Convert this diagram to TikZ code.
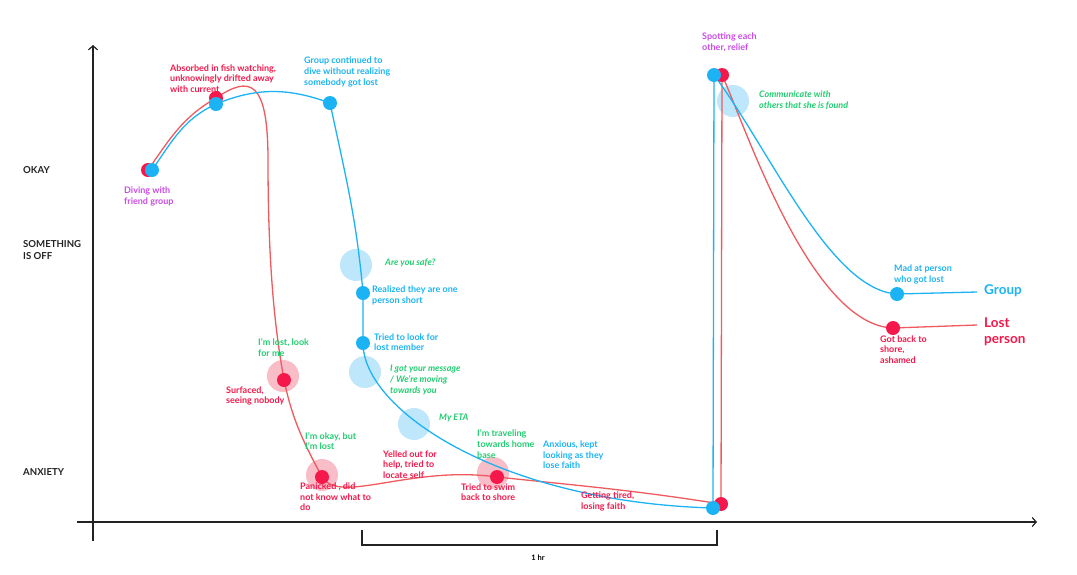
\documentclass[tikz,border=0pt]{standalone}
\usepackage{fontspec}
\setmainfont{Lato}
\usetikzlibrary{backgrounds,arrows.meta}
\definecolor{grpblue}{HTML}{1CB3F5}
\definecolor{lostred}{HTML}{F5184A}
\definecolor{redline}{HTML}{EE5A5E}
\definecolor{haloblue}{HTML}{BFE7FB}
\definecolor{halored}{HTML}{F9BDC7}
\definecolor{txtgreen}{HTML}{22CC70}
\definecolor{txtpurple}{HTML}{C94BE6}
\definecolor{axisgray}{HTML}{222222}
\newcommand\labfont{\fontsize{9}{10.6}\selectfont\bfseries}
\tikzset{
	bdot/.style={circle,fill=grpblue,minimum size=14pt,inner sep=0pt},
	rdot/.style={circle,fill=lostred,minimum size=14pt,inner sep=0pt},
	bhalo/.style={circle,fill=haloblue,minimum size=32pt,inner sep=0pt},
	rhalo/.style={circle,fill=halored,minimum size=32pt,inner sep=0pt},
	bline/.style={draw=grpblue,line width=1.3pt},
	rline/.style={draw=redline,line width=1.3pt},
	axisline/.style={axisgray,line width=1.2pt},
	lab/.style={font=\labfont,align=left,anchor=west,inner sep=0pt},
	blab/.style={lab,text=grpblue},
	rlab/.style={lab,text=lostred},
	glab/.style={lab,text=txtgreen,font=\labfont\itshape},
	gplab/.style={lab,text=txtgreen},
	plab/.style={lab,text=txtpurple},
	ylab/.style={lab,text=axisgray,font=\fontsize{9.6}{12}\selectfont\bfseries},
	biglab/.style={lab,font=\fontsize{13.5}{16}\selectfont\bfseries}
}
\begin{document}
\begin{tikzpicture}[x=1pt,y=1pt]
	\useasboundingbox (0,0) rectangle (1077,-574);
	
	\coordinate (yTop) at (93,-45);
	\coordinate (yBot) at (93,-541);
	\coordinate (xLeft) at (77,-522);
	\coordinate (xRight) at (1037,-522);
	\draw[axisline,-{Straight Barb[length=4pt,width=9pt]}] (yBot) -- (yTop);
	\draw[axisline,-{Straight Barb[length=4pt,width=9pt]}] (xLeft) -- (xRight);
	
	\coordinate (brA) at (362,-530);
	\coordinate (brB) at (717,-545);
	\coordinate (brC) at (717,-530);
	\draw[axisline] (brA) |- (brB) -- (brC);
	\node[lab,anchor=center,font=\fontsize{7.5}{8}\selectfont\bfseries] at (538,-558) (hour) {1 hr};
	
	\node[ylab] at (23,-170) (okay) {OKAY};
	\node[ylab] at (23,-250) (off) {SOMETHING\\IS OFF};
	\node[ylab] at (23,-472) (anx) {ANXIETY};
	
	\node[rdot] at (148,-170) (r1) {};
	\node[rdot] at (216,-98) (r2) {};
	\node[rdot] at (284,-380) (r3) {};
	\node[rdot] at (322,-477) (r4) {};
	\node[rdot] at (497,-477) (r5) {};
	\node[rdot] at (721,-504) (r6) {};
	\node[rdot] at (722,-75) (r7) {};
	\node[rdot] at (893,-328) (r8) {};
	
	\node[bdot] at (152,-170) (b1) {};
	\node[bdot] at (216,-104) (b2) {};
	\node[bdot] at (330,-103) (b3) {};
	\node[bdot] at (363,-293) (b4) {};
	\node[bdot] at (363,-343) (b5) {};
	\node[bdot] at (713,-508) (b6) {};
	\node[bdot] at (714,-75) (b7) {};
	\node[bdot] at (897,-294) (b8) {};
	
	\coordinate (rk) at (268,-160);
	\coordinate (lEnd) at (977,-325);
	\coordinate (gEnd) at (977,-292);
	
	\begin{scope}[on background layer]
	\node[bhalo] at (356,-265) (hB1) {};
	\node[bhalo] at (365,-372) (hB2) {};
	\node[bhalo] at (414,-424) (hB3) {};
	\node[bhalo] at (733,-101) (hB4) {};
	\node[rhalo] at (283,-376) (hR1) {};
	\node[rhalo] at (322,-475) (hR2) {};
	\node[rhalo] at (493,-473) (hR3) {};
	
	\draw[rline] (r1.center) to[out=55,in=210] (r2.center) .. controls (250,-75) and (268,-80) .. (rk) .. controls (268,-280) and (277,-340) .. (r3.center) to[out=-78,in=118] (r4.center) .. controls (340,-505) and (410,-465) .. (r5.center) to[out=-6,in=171] (r6.center) -- (r7.center) .. controls (745,-125) and (810,-325) .. (r8.center) -- (lEnd);
	\draw[bline] (b1.center) to[out=55,in=205] (b2.center) to[out=22,in=160] (b3.center) to[out=-78,in=95] (b4.center) -- (b5.center) .. controls (363,-410) and (500,-502) .. (b6.center) -- (b7.center) .. controls (770,-150) and (830,-290) .. (b8.center) -- (gEnd);
	\end{scope}
	
	\node[rlab] at (170,-78.5) (absorbed) {Absorbed in fish watching,\\unknowingly drifted away\\with current};
	\node[blab] at (304,-72) (continued) {Group continued to\\dive without realizing\\somebody got lost};
	\node[plab] at (124,-196.5) (diving) {Diving with\\friend group};
	\node[glab] at (385,-263) (safe) {Are you safe?};
	\node[blab] at (372,-295.5) (realized) {Realized they are one\\person short};
	\node[blab] at (374,-342) (looked) {Tried to look for\\lost member};
	\node[glab] at (390,-380) (message) {I got your message\\/ We're moving\\towards you};
	\node[glab] at (439,-418) (eta) {My ETA};
	\node[gplab] at (477,-444) (travel) {I'm traveling\\towards home\\base};
	\node[blab] at (543,-455) (anxious) {Anxious, kept\\looking as they\\lose faith};
	\node[rlab] at (581,-501.5) (tired) {Getting tired,\\losing faith};
	\node[gplab] at (258,-347.5) (lostme) {I'm lost, look\\for me};
	\node[rlab] at (226,-396) (surfaced) {Surfaced,\\seeing nobody};
	\node[gplab] at (305,-441) (okaylost) {I'm okay, but\\I'm lost};
	\node[rlab] at (383,-464.5) (yelled) {Yelled out for\\help, tried to\\locate self};
	\node[rlab] at (300,-497) (panicked) {Panicked , did\\not know what to\\do};
	\node[rlab] at (461,-492) (swim) {Tried to swim\\back to shore};
	\node[plab] at (702,-42) (spotting) {Spotting each\\other, relief};
	\node[glab] at (759,-100) (found) {Communicate with\\others that she is found};
	\node[blab] at (894,-274.5) (mad) {Mad at person\\who got lost};
	\node[rlab] at (880,-349.5) (ashamed) {Got back to\\shore,\\ashamed};
	\node[biglab,text=grpblue] at (984,-291) (group) {Group};
	\node[biglab,text=lostred] at (984,-332) (lost) {Lost\\person};
\end{tikzpicture}
\end{document}
